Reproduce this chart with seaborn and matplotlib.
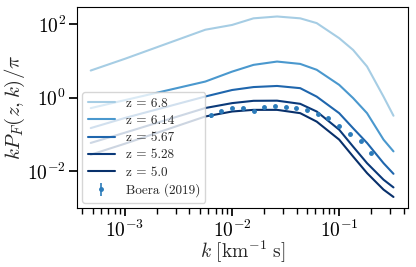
import numpy as np
import pandas as pd
import matplotlib
matplotlib.use("Agg")
import matplotlib.pyplot as plt
from matplotlib.ticker import LogLocator, NullLocator
import seaborn as sns

log_k = [-3.32, -3.0, -2.25, -2.0, -1.80, -1.58, -1.364, -1.21, -1.0, -0.87, -0.74, -0.586, -0.493]

redshifts = ["z = 6.8", "z = 6.14", "z = 5.67", "z = 5.28", "z = 5.0"]
logp_z68 = [0.74, 1.06, 1.85, 1.98, 2.16, 2.21, 2.16, 2.03, 1.62, 1.30, 0.85, 0.03, -0.49]
logp_z614 = [-0.283, -0.065, 0.44, 0.71, 0.894, 0.984, 0.92, 0.76, 0.35, -0.01, -0.42, -1.14, -1.46]
logp_z567 = [-0.826, -0.55, 0.033, 0.21, 0.29, 0.32, 0.26, 0.03, -0.42, -0.83, -1.23, -1.78, -2.07]
logp_z528 = [-1.23, -0.95, -0.28, -0.147, -0.084, -0.08, -0.166, -0.375, -0.87, -1.33, -1.78, -2.23, -2.44]
logp_z50 = [-1.55, -1.25, -0.51, -0.375, -0.33, -0.33, -0.42, -0.65, -1.14, -1.60, -2.05, -2.50, -2.70]

# Boera (2019) measurements
boera_logk = [-2.2, -2.1, -2.0, -1.9, -1.8, -1.7, -1.6, -1.5, -1.4, -1.3, -1.2, -1.1, -1.0, -0.9, -0.8, -0.7]
boera_logp = [-0.483, -0.374, -0.283, -0.283, -0.374, -0.256, -0.22, -0.256,
              -0.293, -0.33, -0.446, -0.546, -0.782, -0.99, -1.19, -1.505]
boera_relerr = [0.12, 0.08, 0.07, 0.07, 0.07, 0.06, 0.06, 0.06,
                0.06, 0.06, 0.06, 0.07, 0.07, 0.08, 0.09, 0.10]

colors = ["#a6cde4", "#4a98ce", "#1f66ad", "#0b3a7a", "#08306b"]

k = 10 ** np.array(log_k)
curves = [logp_z68, logp_z614, logp_z567, logp_z528, logp_z50]

sns.set_theme(style="ticks")
plt.rcParams.update({
    "font.family": "serif",
    "font.serif": ["cmr10", "DejaVu Serif"],
    "mathtext.fontset": "cm",
    "axes.unicode_minus": False,
    "axes.formatter.use_mathtext": True,
    "axes.edgecolor": "black",
    "xtick.color": "black",
    "ytick.color": "black",
    "axes.linewidth": 0.8,
})

fig, ax = plt.subplots(figsize=(4.16, 2.67), dpi=100)
fig.subplots_adjust(left=0.185, right=0.981, bottom=0.221, top=0.974)

for label, vals, col in zip(redshifts, curves, colors):
    df = pd.DataFrame({"k": k, "p": 10 ** np.array(vals)})
    sns.lineplot(data=df, x="k", y="p", ax=ax, color=col, linewidth=1.5, label=label)

bk = 10 ** np.array(boera_logk)
bp = 10 ** np.array(boera_logp)
ax.errorbar(bk, bp, yerr=bp * np.array(boera_relerr), fmt="o", ms=2.5,
            color="#2b7bba", elinewidth=1.2, capsize=0, label="Boera (2019)")

ax.set_xscale("log")
ax.set_yscale("log")
ax.set_xlim(3.56e-4, 0.44)
ax.set_ylim(1.0e-3, 2.95e2)
ax.yaxis.set_major_locator(LogLocator(base=100.0))
ax.yaxis.set_minor_locator(NullLocator())
ax.tick_params(axis="both", which="major", labelsize=14, direction="out", pad=2)
ax.set_xlabel(r"$k\ [\mathrm{km}^{-1}\ \mathrm{s}]$", fontsize=14)
ax.set_ylabel(r"$kP_F(z,k)/\pi$", fontsize=15)
ax.xaxis.set_label_coords(0.5, -0.155)
ax.yaxis.set_label_coords(-0.15, 0.5)
ax.legend(loc="lower left", fontsize=9.5, framealpha=0.8, handlelength=2.1,
          labelspacing=0.38, borderaxespad=0.4)

fig.savefig("out.png", dpi=100)
